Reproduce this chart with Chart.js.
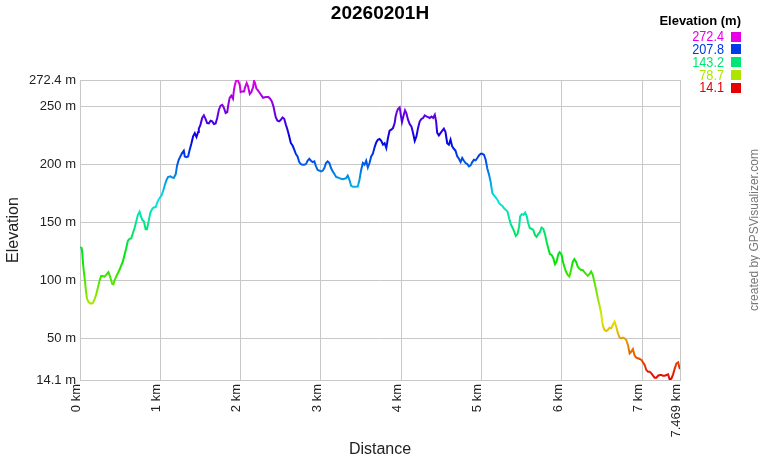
<!DOCTYPE html>
<html><head><meta charset="utf-8">
<script src="https://cdn.jsdelivr.net/npm/chart.js@4/dist/chart.umd.min.js"></script>
<style>html,body{margin:0;padding:0;background:#fff;}canvas{display:block;}</style>
</head><body>
<canvas id="c" width="760" height="460"></canvas>
<script>
const titleText = '20260201H';
const xAxisTitle = 'Distance';
const yAxisTitle = 'Elevation';
const legendTitle = 'Elevation (m)';
const creditText = 'created by GPSVisualizer.com';

const distanceKm = [
0,0.021,0.029,0.0375,0.05,0.0625,0.075,0.0875,0.108,0.1375,0.158,0.179,0.2,0.221,0.242,0.2625,0.283,0.304,0.325,0.354,0.375,0.4,0.417,0.429,0.45,0.471,0.492,0.5125,0.533,0.554,0.575,0.596,0.617,0.6375,0.658,0.679,0.7,0.721,0.742,0.754,0.775,0.796,0.817,0.833,0.854,0.875,0.896,0.917,0.942,0.9625,0.983,1.0125,1.033,1.054,1.075,1.096,1.125,1.146,1.167,1.192,1.208,1.229,1.25,1.271,1.292,1.304,1.325,1.346,1.3625,1.3875,1.408,1.429,1.45,1.471,
1.479,1.5,1.521,1.542,1.5625,1.583,1.604,1.625,1.646,1.667,1.688,1.708,1.729,1.75,1.771,1.792,1.813,1.833,1.846,1.863,1.883,1.904,1.917,1.929,1.946,1.967,1.988,2.0,2.021,2.042,2.054,2.075,2.092,2.113,2.133,2.154,2.167,2.179,2.196,2.217,2.238,2.258,2.279,2.3,2.321,2.346,2.367,2.388,2.408,2.425,2.4375,2.458,2.479,2.5,2.521,2.542,2.5625,2.583,2.604,2.625,2.646,2.667,2.6875,2.708,2.729,2.75,2.771,2.792,2.813,2.833,2.854,2.875,2.896,2.917,2.938,2.958,2.983,
3.0,3.021,3.042,3.0625,3.083,3.104,3.125,3.146,3.167,3.1875,3.208,3.229,3.25,3.271,3.292,3.3125,3.333,3.354,3.375,3.396,3.417,3.438,3.458,3.479,3.5,3.521,3.542,3.5625,3.583,3.604,3.625,3.646,3.667,3.6875,3.708,3.729,3.75,3.771,3.792,3.813,3.833,3.854,3.875,3.896,3.917,3.929,3.946,3.958,3.979,3.992,4.008,4.025,4.046,4.0625,4.083,4.104,4.125,4.146,4.167,4.188,4.208,4.229,4.25,4.271,4.292,4.3125,4.333,4.354,4.375,4.396,4.417,4.433,4.446,
4.467,4.4875,4.508,4.529,4.55,4.571,4.592,4.6125,4.633,4.654,4.675,4.696,4.717,4.738,4.758,4.779,4.8,4.821,4.842,4.863,4.883,4.904,4.925,4.946,4.967,4.988,5.008,5.029,5.05,5.071,5.092,5.1125,5.133,5.154,5.175,5.196,5.217,5.2375,5.258,5.279,5.3,5.321,5.342,5.3625,5.383,5.404,5.425,5.446,5.467,5.479,5.5,5.521,5.542,5.5625,5.579,5.6,5.621,5.642,5.663,5.683,5.704,5.725,5.746,5.767,5.788,5.808,5.829,5.85,5.871,5.892,5.913,5.933,5.954,5.971,
5.996,6.008,6.029,6.05,6.071,6.092,6.1125,6.133,6.154,6.175,6.196,6.217,6.2375,6.258,6.279,6.3,6.321,6.342,6.3625,6.383,6.404,6.425,6.446,6.467,6.4875,6.5,6.5125,6.529,6.55,6.571,6.592,6.6125,6.633,6.654,6.675,6.696,6.717,6.7375,6.758,6.779,6.8,6.821,6.842,6.863,6.883,6.904,6.925,6.946,6.967,6.988,7.008,7.029,7.05,7.071,7.092,7.1125,7.133,7.154,7.175,7.196,7.217,7.238,7.258,7.279,7.3,7.321,7.342,7.363,7.383,7.404,7.425,7.446,7.4625,7.469
];
const elevationM = [
128.5,127.6,123,114.6,106,99,90,84,81,79.9,80.2,83,87.4,93,99.4,103.7,103.7,103,104.6,107,103,97,96.5,99.7,103,106,109,112.6,116,121.8,127.6,134,135.6,136,140.5,145,150.6,156.3,159,156,152,150.6,144,144,150.6,158,161,162.7,163,167,170,172.7,176.4,181.6,186,188.8,189.4,188.5,188,191.4,198.6,203.7,206.6,209.5,211.5,206.6,206,206.6,211.5,218,223.9,226.7,223.3,227.6,
230.5,234,239.7,242,239,235.3,235,237.4,236.8,234.5,235,239.7,246.8,250.3,251,248.3,244,244.8,251,257,259,256.3,264,268.4,272.4,271.8,268.4,262,262.6,262.6,266,269.8,267,260.3,262,266,271.8,269.8,265,263.2,261.2,259.2,257,257.5,257.8,257.8,256.3,254,249.7,244,240.2,237.4,236.8,238.2,240.2,239,234,229.6,223.9,218,216,212.4,208.6,206.6,201.7,200,199.4,199.4,200,202.9,204.6,202.9,201.7,202.3,198,195,194.3,
193.7,194.3,196.6,200.9,202.3,200.9,196.6,193.7,191.4,189,188.5,187.9,187.4,187,187.4,187.9,190,186.5,181.3,180.5,180.5,180.5,180.7,186.5,195,200.9,199.4,202.9,197,200.9,206.6,209,214.4,218.7,221,221.6,220,216.7,218,213.8,222.4,228.7,229.6,231,235.3,241,245.4,247.4,248.9,243,236.2,241,246.3,244,238.2,234.5,232.5,226.7,220,223.9,231,236.8,238.8,239.7,242,241,240.5,239.7,241,239.7,242.5,236.8,227,
224.7,226.7,228.7,230.5,227.6,218,216.7,221,215.2,213.2,211.5,206.6,204.6,201.7,205.2,202.9,200.9,200,198,198.9,201.7,203.7,203.2,205.2,207.5,208.9,208.9,208,203.7,196,190.8,184.5,175,173,171.3,169.3,166.4,165,164,162,160.6,159.2,153.4,148.3,145.4,142,138.2,139.7,146.3,154.9,156.9,156.3,158.3,154.9,149.1,144.8,144.3,143.4,139,137.4,139.7,141.4,145.4,144.3,139.7,133.3,127.6,122.4,121.8,119,113.8,116,122.4,124.1,
121.8,116.7,111.8,107.5,104.6,103.2,108.9,115.5,118.1,116,111.8,109.8,108.9,108.9,106.9,105.2,103.7,105.2,107.5,104.6,98.3,91.7,84.5,78.2,71.6,64.4,60.1,57.2,56.3,57.2,59.2,58.6,61.5,64.4,60.1,54.3,50.6,50,50.6,50,48.6,44.3,37,38.6,40.8,35.1,33.3,32.8,32.2,31.3,29.3,27,22.7,21.3,21.3,19.8,17.8,16.1,16.1,17.8,18.4,18.4,17.8,17.8,18.4,19,14.1,15.5,19,24.1,28.4,29.3,24.7,23.5
];

const xTickValues = [0,1,2,3,4,5,6,7,7.469];
const xTickLabels = ['0 km','1 km','2 km','3 km','4 km','5 km','6 km','7 km','7.469 km'];
const yTickValues = [14.1,50,100,150,200,250,272.4];
const yTickLabels = ['14.1 m','50 m','100 m','150 m','200 m','250 m','272.4 m'];
const legendValues = [272.4,207.8,143.2,78.7,14.1];
const legendLabels = ['272.4','207.8','143.2','78.7','14.1'];

const ELEV_MIN = 14.1, ELEV_MAX = 272.4;
const FONT = "'Liberation Sans', Arial, Helvetica, sans-serif";

function elevColor(v){
  const t = Math.max(0, Math.min(1, (v - ELEV_MIN) / (ELEV_MAX - ELEV_MIN)));
  return 'hsl(' + (300 * t) + ',100%,45%)';
}

let gradCache = null, gradKey = '';
function lineGradient(chart){
  const a = chart.chartArea;
  if (!a) return '#000';
  const ys = chart.scales.y;
  const yBot = ys.getPixelForValue(ELEV_MIN), yTop = ys.getPixelForValue(ELEV_MAX);
  const key = yBot + ',' + yTop;
  if (gradCache && gradKey === key) return gradCache;
  const g = chart.ctx.createLinearGradient(0, yBot, 0, yTop);
  for (let i = 0; i <= 30; i++) {
    const t = i / 30;
    g.addColorStop(t, elevColor(ELEV_MIN + t * (ELEV_MAX - ELEV_MIN)));
  }
  gradCache = g; gradKey = key;
  return g;
}

const points = distanceKm.map((d, i) => ({x: d, y: elevationM[i]}));

const decorPlugin = {
  id: 'decor',
  afterDraw(chart){
    const ctx = chart.ctx;
    ctx.save();
    ctx.fillStyle = '#000';
    ctx.font = 'bold 19px ' + FONT;
    ctx.textAlign = 'center';
    ctx.textBaseline = 'middle';
    ctx.fillText(titleText, 380, 14);
    ctx.font = 'bold 13px ' + FONT;
    ctx.textAlign = 'right';
    ctx.textBaseline = 'alphabetic';
    ctx.fillText(legendTitle, 741, 25);
    legendValues.forEach((v, i) => {
      const cy = 37 + i * 12.8;
      ctx.fillStyle = elevColor(v);
      ctx.fillRect(731, Math.round(cy - 5.5), 10, 10);
      ctx.save();
      ctx.translate(724, cy);
      ctx.scale(0.82, 1);
      ctx.font = '15.5px ' + FONT;
      ctx.textAlign = 'right';
      ctx.textBaseline = 'middle';
      ctx.fillText(legendLabels[i], 0, 0);
      ctx.restore();
    });
    ctx.translate(755, 230);
    ctx.rotate(-Math.PI / 2);
    ctx.fillStyle = '#777';
    ctx.font = '12px ' + FONT;
    ctx.textAlign = 'center';
    ctx.textBaseline = 'middle';
    ctx.fillText(creditText, 0, 0);
    ctx.restore();
  }
};

new Chart(document.getElementById('c'), {
  type: 'line',
  data: {
    datasets: [{
      data: points,
      borderColor: (ctx) => lineGradient(ctx.chart),
      borderWidth: 2,
      pointRadius: 0,
      tension: 0,
      fill: false
    }]
  },
  options: {
    responsive: false,
    devicePixelRatio: 1,
    animation: false,
    events: [],
    layout: { padding: { left: 0, right: 80, top: 80, bottom: 0 } },
    plugins: { legend: { display: false }, title: { display: false }, tooltip: { enabled: false } },
    scales: {
      x: {
        type: 'linear',
        min: 0, max: 7.469,
        afterBuildTicks: (s) => { s.ticks = xTickValues.map(v => ({value: v})); },
        afterFit: (s) => { s.height = 80; },
        grid: { color: '#c8c8c8', drawTicks: false, lineWidth: 1 },
        border: { color: '#c8c8c8' },
        ticks: {
          autoSkip: false, maxRotation: 90, minRotation: 90, padding: 4, labelOffset: -4,
          color: '#222', font: { size: 13, family: FONT },
          callback: (v, i) => xTickLabels[i]
        },
        title: { display: true, text: xAxisTitle, color: '#222', font: { size: 16, family: FONT }, padding: { top: 1, bottom: 1 } }
      },
      y: {
        min: ELEV_MIN, max: ELEV_MAX,
        afterBuildTicks: (s) => { s.ticks = yTickValues.map(v => ({value: v})); },
        afterFit: (s) => { s.width = 80; },
        grid: { color: '#c8c8c8', drawTicks: false, lineWidth: 1 },
        border: { color: '#c8c8c8' },
        ticks: {
          autoSkip: false, padding: 4, color: '#222', font: { size: 13, family: FONT },
          callback: (v, i) => yTickLabels[i]
        },
        title: { display: true, text: yAxisTitle, color: '#222', font: { size: 16, family: FONT }, padding: { top: 4, bottom: 4 } }
      }
    }
  },
  plugins: [decorPlugin]
});
</script>
</body></html>
